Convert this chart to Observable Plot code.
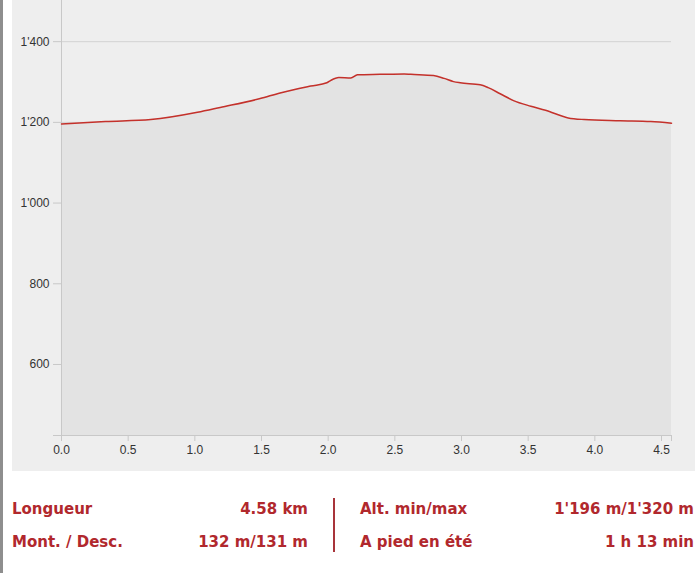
<!DOCTYPE html>
<html>
<head>
<meta charset="utf-8">
<script src="https://cdn.jsdelivr.net/npm/d3@7"></script>
<script src="https://cdn.jsdelivr.net/npm/@observablehq/plot@0.6"></script>
<style>
  html, body { margin: 0; padding: 0; background: #fff; }
  body { width: 700px; height: 573px; position: relative; overflow: hidden; }
  #leftbar { position: absolute; left: 0; top: 0; width: 3px; height: 573px; background: #8e8e8e; }
  #panel { position: absolute; left: 12px; top: 0; width: 683px; height: 471px; background: #eeeeee; }
  #chart { position: absolute; left: 0; top: 0; }
  #chart svg { background: transparent !important; color: #333; font-family: "Liberation Sans", Arial, sans-serif; font-size: 12px; }
  #chart g[aria-label^="y-axis"] line, #chart g[aria-label^="y-axis"] path,
  #chart g[aria-label^="x-axis"] line, #chart g[aria-label^="x-axis"] path { stroke: #c8c8c8; stroke-opacity: 1; }
  .stat { position: absolute; font-family: "DejaVu Sans", Verdana, sans-serif; font-weight: bold; font-size: 15px; color: #b1282d; white-space: nowrap; line-height: 18px; }
  .r { text-align: right; }
  #sep { position: absolute; left: 333px; top: 498px; width: 2px; height: 54px; background: #a8343a; }
</style>
</head>
<body>
<div id="leftbar"></div>
<div id="panel"></div>
<div id="chart"></div>
<div id="stats"></div>
<div id="sep"></div>
<script>
// Elevation profile (distance in km, altitude in m)
const distKm = [0, 0.33, 0.67, 1.02, 1.19, 1.49, 1.64, 1.87, 1.99, 2.02, 2.08, 2.17, 2.22, 2.39, 2.57, 2.62, 2.79, 2.87, 2.94, 2.99, 3.14, 3.20, 3.29, 3.39, 3.52, 3.63, 3.80, 3.92, 4.19, 4.42, 4.575];
const altM   = [1196, 1202, 1207, 1225, 1237, 1259, 1273, 1290, 1298, 1304, 1311, 1310, 1318, 1319, 1320, 1319, 1316, 1309, 1301, 1298, 1293, 1286, 1271, 1254, 1240, 1230, 1211, 1207, 1204, 1202, 1198];

const yTicks = [600, 800, 1000, 1200, 1400];
const xTicks = [0, 0.5, 1, 1.5, 2, 2.5, 3, 3.5, 4, 4.5, 4.575];
const xLabeled = [0, 0.5, 1, 1.5, 2, 2.5, 3, 3.5, 4, 4.5];

const statLabelsLeft = ["Longueur", "Mont. / Desc."];
const statValuesLeft = ["4.58 km", "132 m/131 m"];
const statLabelsRight = ["Alt. min/max", "A pied en été"];
const statValuesRight = ["1'196 m/1'320 m", "1 h 13 min"];

const yDomain = [424, 1502];
const xDomain = [0, 4.575];

const data = distKm.map((d, i) => ({ km: d, alt: altM[i] }));
const fmtAlt = d3.formatLocale({ decimal: ".", thousands: "'", grouping: [3], currency: ["", ""] }).format(",");

const chart = Plot.plot({
  width: 700,
  height: 471,
  marginLeft: 61,
  marginRight: 29,
  marginTop: 0,
  marginBottom: 36,
  style: { background: "transparent", color: "#333", fontSize: "12px", fontFamily: "Liberation Sans, Arial, sans-serif" },
  x: { domain: xDomain, ticks: xTicks, tickFormat: d => xLabeled.includes(d) ? d3.format(".1f")(d) : "", tickSize: 6, tickPadding: 4, label: null, line: false },
  y: { domain: yDomain, ticks: [yDomain[0], ...yTicks], tickFormat: d => yTicks.includes(d) ? fmtAlt(d) : "", tickSize: 8, tickPadding: 4, label: null },
  marks: [
    Plot.ruleY(yTicks, { stroke: "#d2d2d2", strokeWidth: 1 }),
    Plot.areaY(data, { x: "km", y1: yDomain[0], y2: "alt", fill: "#e3e3e3", curve: "monotone-x" }),
    Plot.ruleY([yDomain[0]], { stroke: "#c8c8c8" }),
    Plot.ruleX([xDomain[0]], { stroke: "#c8c8c8" }),
    Plot.lineY(data, { x: "km", y: "alt", stroke: "#c4312b", strokeWidth: 1.5, curve: "monotone-x" })
  ]
});
document.getElementById("chart").appendChild(chart);

// Stats table
const stats = document.getElementById("stats");
function addStat(text, left, top, right) {
  const el = document.createElement("div");
  el.className = "stat" + (right ? " r" : "");
  el.textContent = text;
  el.style.top = top + "px";
  if (right) { el.style.right = (700 - left) + "px"; } else { el.style.left = left + "px"; }
  stats.appendChild(el);
}
const rowTops = [500, 533];
statLabelsLeft.forEach((t, i) => addStat(t, 12, rowTops[i], false));
statValuesLeft.forEach((t, i) => addStat(t, 308, rowTops[i], true));
statLabelsRight.forEach((t, i) => addStat(t, 360, rowTops[i], false));
statValuesRight.forEach((t, i) => addStat(t, 694, rowTops[i], true));
</script>
</body>
</html>
